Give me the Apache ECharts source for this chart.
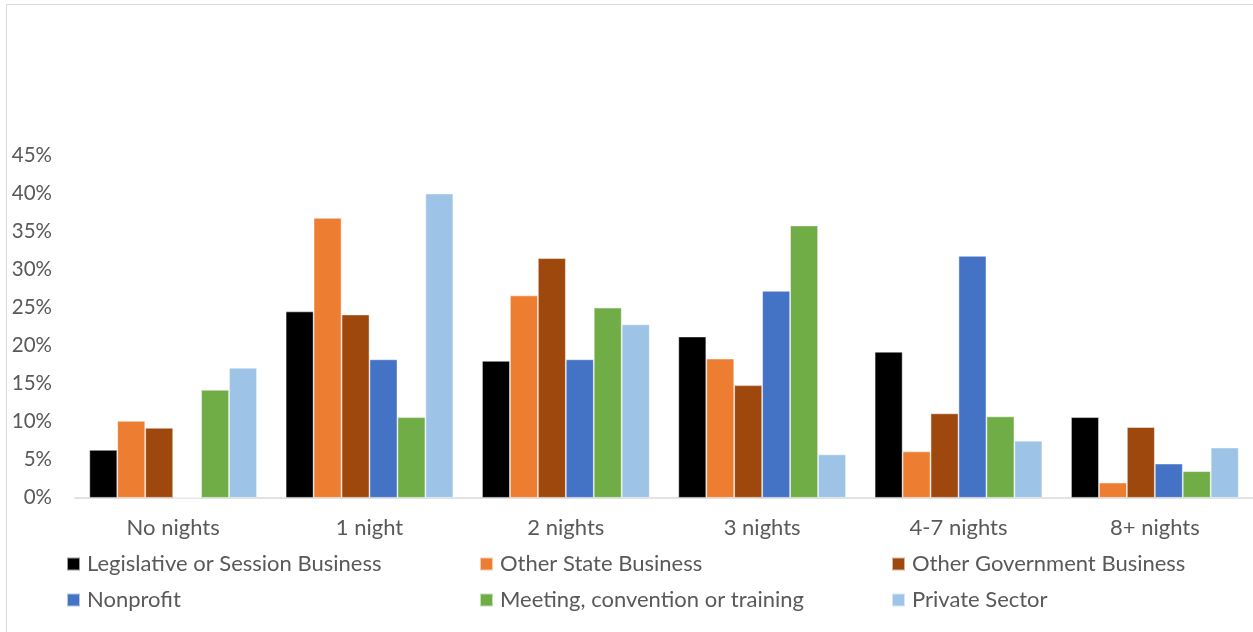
<!DOCTYPE html>
<html>
<head>
<meta charset="utf-8">
<script src="https://cdn.jsdelivr.net/npm/echarts@6/dist/echarts.min.js"></script>
<style>
  html, body { margin: 0; padding: 0; background: #fff; }
  #chart { width: 1253px; height: 632px; }
</style>
</head>
<body>
<div id="chart"></div>
<script>
// Share of trips by number of nights, per trip purpose (percent)
const categories = ['No nights', '1 night', '2 nights', '3 nights', '4-7 nights', '8+ nights'];
const yTicks = [0, 5, 10, 15, 20, 25, 30, 35, 40, 45];

const legislative = [6.3, 24.5, 18.0, 21.2, 19.2, 10.6];
const otherState = [10.1, 36.8, 26.6, 18.3, 6.1, 2.0];
const otherGovernment = [9.2, 24.1, 31.5, 14.8, 11.1, 9.3];
const nonprofit = [0, 18.2, 18.2, 27.2, 31.8, 4.5];
const meeting = [14.2, 10.6, 25.0, 35.8, 10.7, 3.5];
const privateSector = [17.1, 40.0, 22.8, 5.7, 7.5, 6.6];

const seriesDefs = [
  { name: 'Legislative or Session Business', data: legislative, color: '#000000' },
  { name: 'Other State Business', data: otherState, color: '#ED7D31' },
  { name: 'Other Government Business', data: otherGovernment, color: '#9E480E' },
  { name: 'Nonprofit', data: nonprofit, color: '#4472C4' },
  { name: 'Meeting, convention or training', data: meeting, color: '#70AD47' },
  { name: 'Private Sector', data: privateSector, color: '#9DC3E6' }
];

const FONT = 'Lato';
const TEXT = '#595959';

const legendBase = {
  orient: 'vertical',
  top: 553,
  padding: 0,
  itemWidth: 13,
  itemHeight: 13,
  itemGap: 14,
  icon: 'rect',
  selectedMode: false,
  textStyle: { fontFamily: FONT, fontSize: 22, color: TEXT, padding: [0, 0, 0, 2] }
};

const chart = echarts.init(document.getElementById('chart'));
chart.setOption({
  animation: false,
  backgroundColor: '#ffffff',
  graphic: [{
    type: 'rect',
    shape: { x: 6.5, y: 4.5, width: 1300, height: 700 },
    style: { fill: 'none', stroke: '#d9d9d9', lineWidth: 1 },
    silent: true
  }],
  legend: [
    Object.assign({}, legendBase, { left: 66, data: [seriesDefs[0].name, seriesDefs[3].name] }),
    Object.assign({}, legendBase, { left: 479, data: [seriesDefs[1].name, seriesDefs[4].name] }),
    Object.assign({}, legendBase, { left: 891, data: [seriesDefs[2].name, seriesDefs[5].name] })
  ],
  grid: { left: 75, right: -4, top: 155.5, bottom: 134.2, containLabel: false },
  xAxis: {
    type: 'category',
    data: categories,
    axisLine: { lineStyle: { color: '#d9d9d9', width: 1.5 } },
    axisTick: { show: false },
    axisLabel: { fontFamily: FONT, fontSize: 22, color: TEXT, margin: 19 }
  },
  yAxis: {
    type: 'value',
    min: yTicks[0],
    max: yTicks[yTicks.length - 1],
    interval: 5,
    splitLine: { show: false },
    axisLine: { show: false },
    axisTick: { show: false },
    axisLabel: {
      fontFamily: FONT, fontSize: 20.5, color: TEXT, margin: 23,
      formatter: v => v + '%'
    }
  },
  series: seriesDefs.map(s => ({
    name: s.name,
    type: 'bar',
    data: s.data,
    barGap: '0%',
    barCategoryGap: '14.6%',
    itemStyle: { color: s.color, borderColor: 'rgba(255,255,255,0.6)', borderWidth: 0.8 }
  }))
});
</script>
</body>
</html>
